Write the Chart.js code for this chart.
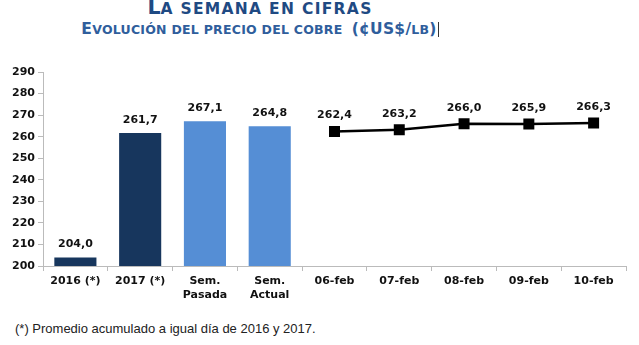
<!DOCTYPE html>
<html>
<head>
<meta charset="utf-8">
<script src="https://cdn.jsdelivr.net/npm/chart.js@4/dist/chart.umd.min.js"></script>
<style>
  html, body { margin: 0; padding: 0; background: #fff; }
  body { width: 639px; height: 345px; position: relative; overflow: hidden; font-family: "DejaVu Sans", Verdana, sans-serif; }
  .title { position: absolute; left: 0; width: 520px; top: -5px; text-align: center; font-weight: bold; font-size: 15.5px; letter-spacing: 1.3px; color: #1f4a83; white-space: nowrap; }
  .title b { font-size: 20.5px; letter-spacing: 0; }
  .sub { position: absolute; left: 0; width: 520px; top: 20px; text-align: center; font-weight: bold; font-size: 12.5px; letter-spacing: 0.25px; color: #2f5e9c; white-space: nowrap; }
  .sub b { font-size: 15.5px; }
  .sub span { border-right: 1px solid #333; padding-right: 1px; }
  .wrap { position: absolute; left: 0; top: 60px; width: 639px; height: 260px; }
  .note { position: absolute; left: 15px; top: 321px; font-family: "Liberation Sans", "Open Sans", sans-serif; font-size: 13px; color: #222; }
</style>
</head>
<body>
<div class="title"><b>L</b>A SEMANA EN CIFRAS</div>
<div class="sub"><span><b>E</b>VOLUCIÓN DEL PRECIO DEL COBRE&nbsp; <b>(¢US$/</b>LB<b>)</b></span></div>
<div class="wrap"><canvas id="myChart"></canvas></div>
<div class="note">(*) Promedio acumulado a igual día de 2016 y 2017.</div>
<script>
const labels = ['2016 (*)', '2017 (*)', ['Sem.', 'Pasada'], ['Sem.', 'Actual'], '06-feb', '07-feb', '08-feb', '09-feb', '10-feb'];
const barValues = [204.0, 261.7, 267.1, 264.8, null, null, null, null, null];
const lineValues = [null, null, null, null, 262.4, 263.2, 266.0, 265.9, 266.3];
const barColors = ['#17365d', '#17365d', '#558ed5', '#558ed5'];

const ctx = document.getElementById('myChart');

// value labels above bars and points, with decimal comma
const valueLabels = {
  id: 'valueLabels',
  afterDatasetsDraw(chart) {
    const c = chart.ctx;
    c.save();
    c.font = 'bold 11px "DejaVu Sans", Verdana, sans-serif';
    c.fillStyle = '#111';
    c.textAlign = 'center';
    c.textBaseline = 'middle';
    chart.data.datasets.forEach((ds, i) => {
      const meta = chart.getDatasetMeta(i);
      meta.data.forEach((el, j) => {
        const v = ds.data[j];
        if (v == null) return;
        const off = ds.type === 'line' ? 16 : 13;
        c.fillText(v.toFixed(1).replace('.', ','), el.x, el.y - off);
      });
    });
    c.restore();
  }
};

new Chart(ctx, {
  data: {
    labels: labels,
    datasets: [{
      type: 'bar',
      data: barValues,
      backgroundColor: barColors,
      barPercentage: 0.65,
      categoryPercentage: 1
    }, {
      type: 'line',
      data: lineValues,
      borderColor: '#000',
      backgroundColor: '#000',
      borderWidth: 2.5,
      pointStyle: 'rect',
      pointRadius: 6,
      tension: 0
    }]
  },
  options: {
    responsive: true,
    maintainAspectRatio: false,
    animation: false,
    layout: { padding: { top: 12, right: 13 } },
    plugins: { legend: { display: false }, tooltip: { enabled: false } },
    scales: {
      x: {
        offset: true,
        grid: { display: true, drawOnChartArea: false, offset: true, tickLength: 5, color: '#bbb' },
        border: { color: '#bbb' },
        ticks: { color: '#111', font: { family: '"DejaVu Sans", Verdana, sans-serif', size: 11, weight: 'bold' }, maxRotation: 0, autoSkip: false, padding: 4 },
        afterFit: (s) => { s.height = 54; }
      },
      y: {
        min: 200,
        max: 290,
        grid: { display: true, drawOnChartArea: false, tickLength: 5, color: '#bbb' },
        border: { color: '#bbb' },
        ticks: { stepSize: 10, color: '#111', font: { family: '"DejaVu Sans", Verdana, sans-serif', size: 11, weight: 'bold' }, padding: 3 },
        afterFit: (s) => { s.width = 43; }
      }
    }
  },
  plugins: [valueLabels]
});
</script>
</body>
</html>
